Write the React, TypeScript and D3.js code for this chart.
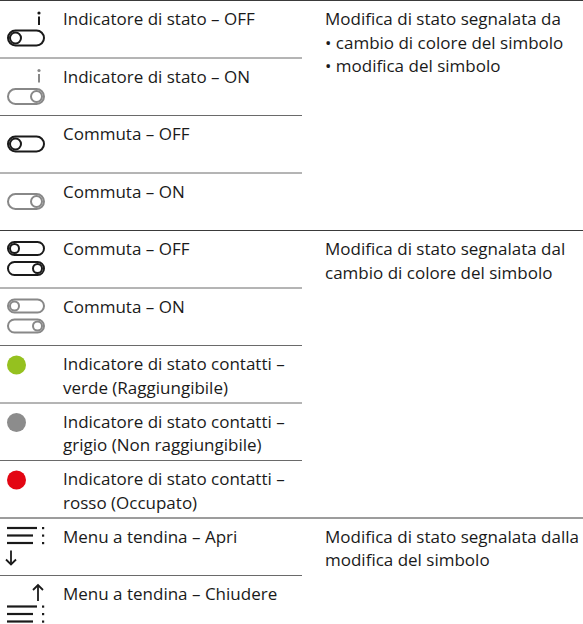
import * as d3 from 'd3'

// row contents, top to bottom
const rowLabels: string[][] = [
  ['Indicatore di stato – OFF'],
  ['Indicatore di stato – ON'],
  ['Commuta – OFF'],
  ['Commuta – ON'],
  ['Commuta – OFF'],
  ['Commuta – ON'],
  ['Indicatore di stato contatti –', 'verde (Raggiungibile)'],
  ['Indicatore di stato contatti –', 'grigio (Non raggiungibile)'],
  ['Indicatore di stato contatti –', 'rosso (Occupato)'],
  ['Menu a tendina – Apri'],
  ['Menu a tendina – Chiudere'],
]
const rowIcons: string[] = [
  'infoOff', 'infoOn', 'toggleOff', 'toggleOn', 'doubleOff', 'doubleOn',
  'dotGreen', 'dotGrey', 'dotRed', 'menuOpen', 'menuClose',
]
// first row of each group and its note on the right
const groupStarts: number[] = [0, 4, 9]
const groupNotes: string[][] = [
  ['Modifica di stato segnalata da', '• cambio di colore del simbolo', '• modifica del simbolo'],
  ['Modifica di stato segnalata dal', 'cambio di colore del simbolo'],
  ['Modifica di stato segnalata dalla', 'modifica del simbolo'],
]

const W = 583, H = 624
const rowH = 57.5
const leftEnd = 302
const textX = 63
const noteX = 325
const lineH = 23.5
const font = '"Open Sans", sans-serif'
const fontSize = 17
const ink = '#1a1a1a'
const grey = '#888888'
const dotColors: Record<string, string> = { dotGreen: '#95c11f', dotGrey: '#8c8c8c', dotRed: '#e30613' }

const y = d3.scaleLinear().domain([0, rowLabels.length]).range([0, rowH * rowLabels.length])

function Pill({ cy, h, on, color }: { cy: number; h: number; on: boolean; color: string }) {
  const x0 = 8, w = 36
  const r = h / 2 - 2
  return (
    <g fill="none" stroke={color} strokeWidth={2}>
      <rect x={x0} y={cy - h / 2} width={w} height={h} rx={h / 2} />
      <circle cx={on ? x0 + w - r - 2 : x0 + r + 2} cy={cy} r={r} />
    </g>
  )
}

function Info({ color }: { color: string }) {
  return (
    <g>
      <circle cx={39} cy={13} r={1.6} fill={color} />
      <line x1={39} x2={39} y1={16.5} y2={25} stroke={color} strokeWidth={2} />
    </g>
  )
}

function Menu({ top }: { top: number }) {
  const lens = [30, 26, 26]
  return (
    <g>
      {lens.map((l, i) => (
        <g key={i}>
          <line x1={7} x2={7 + l} y1={top + i * 7.5} y2={top + i * 7.5} stroke={ink} strokeWidth={2.2} />
          <rect x={42} y={top + i * 7.5 - 1} width={2.2} height={2.2} fill={ink} />
        </g>
      ))}
    </g>
  )
}

function Arrow({ x, y1, y2 }: { x: number; y1: number; y2: number }) {
  const dir = y2 > y1 ? 1 : -1
  return (
    <g fill="none" stroke={ink} strokeWidth={1.8}>
      <line x1={x} x2={x} y1={y1} y2={y2} />
      <polyline points={`${x - 5},${y2 - dir * 5} ${x},${y2} ${x + 5},${y2 - dir * 5}`} />
    </g>
  )
}

function Icon({ kind }: { kind: string }) {
  switch (kind) {
    case 'infoOff':
      return <g><Info color={ink} /><Pill cy={38} h={15} on={false} color={ink} /></g>
    case 'infoOn':
      return <g><Info color={grey} /><Pill cy={39} h={15} on={true} color={grey} /></g>
    case 'toggleOff':
      return <Pill cy={29} h={15} on={false} color={ink} />
    case 'toggleOn':
      return <Pill cy={29} h={15} on={true} color={grey} />
    case 'doubleOff':
    case 'doubleOn': {
      const c = kind === 'doubleOff' ? ink : grey
      return (
        <g>
          <Pill cy={18.5} h={13} on={false} color={c} />
          <Pill cy={38.5} h={13} on={true} color={c} />
        </g>
      )
    }
    case 'menuOpen':
      return <g><Menu top={10.5} /><Arrow x={11} y1={33} y2={47} /></g>
    case 'menuClose':
      return <g><Arrow x={38} y1={26} y2={10} /><Menu top={31.5} /></g>
    default:
      return <circle cx={16.5} cy={20} r={9.5} fill={dotColors[kind]} />
  }
}

export default function App() {
  return (
    <svg width={W} height={H} style={{ position: 'absolute', left: 0, top: 0 }}>
      <rect width={W} height={H} fill="#fff" />
      {rowLabels.map((_, i) => {
        const full = groupStarts.includes(i)
        return (
          <line key={'l' + i} x1={0} x2={full ? W : leftEnd} y1={y(i) + 0.5} y2={y(i) + 0.5}
            stroke={full ? '#3a3a3a' : '#6a6a6a'} strokeWidth={1} />
        )
      })}
      {rowLabels.map((lines, i) => (
        <g key={'r' + i} transform={`translate(0,${y(i)})`}>
          <Icon kind={rowIcons[i]} />
          <text x={textX} y={25} fontFamily={font} fontSize={fontSize} fill={ink}>
            {lines.map((t, j) => (
              <tspan key={j} x={textX} y={25 + j * lineH}>{t}</tspan>
            ))}
          </text>
        </g>
      ))}
      {groupNotes.map((lines, g) => (
        <text key={'n' + g} fontFamily={font} fontSize={fontSize} fill={ink}>
          {lines.map((t, j) => (
            <tspan key={j} x={noteX} y={y(groupStarts[g]) + 25 + j * lineH}>{t}</tspan>
          ))}
        </text>
      ))}
    </svg>
  )
}
